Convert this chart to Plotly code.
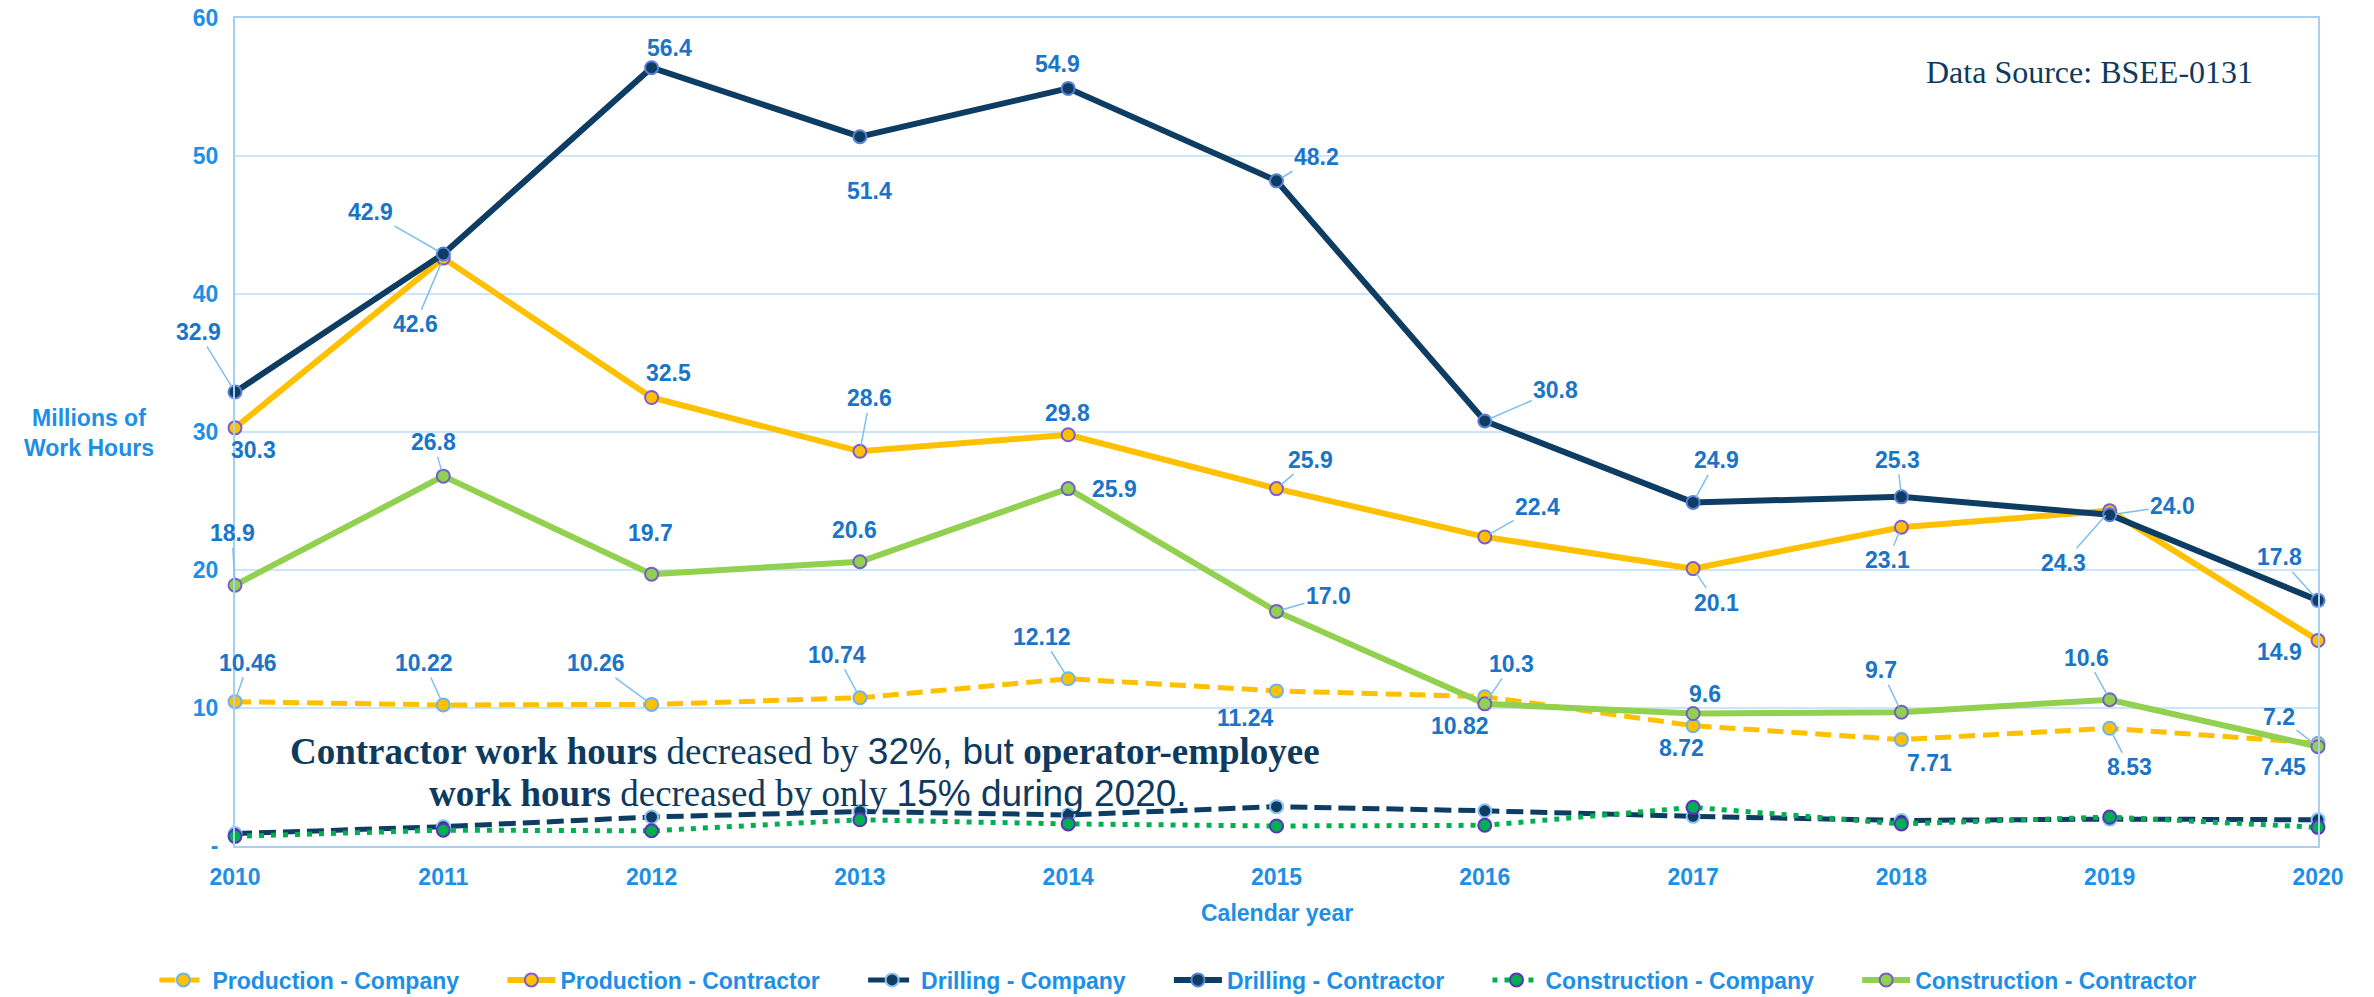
import plotly.graph_objects as go

years = [2010, 2011, 2012, 2013, 2014, 2015, 2016, 2017, 2018, 2019, 2020]

prod_company = [10.46, 10.22, 10.26, 10.74, 12.12, 11.24, 10.82, 8.72, 7.71, 8.53, 7.45]
prod_contractor = [30.3, 42.6, 32.5, 28.6, 29.8, 25.9, 22.4, 20.1, 23.1, 24.3, 14.9]
drill_company = [0.9, 1.4, 2.1, 2.5, 2.25, 2.85, 2.55, 2.15, 1.85, 1.95, 1.9]
drill_contractor = [32.9, 42.9, 56.4, 51.4, 54.9, 48.2, 30.8, 24.9, 25.3, 24.0, 17.8]
constr_company = [0.7, 1.15, 1.1, 1.9, 1.6, 1.45, 1.5, 2.8, 1.6, 2.1, 1.35]
constr_contractor = [18.9, 26.8, 19.7, 20.6, 25.9, 17.0, 10.3, 9.6, 9.7, 10.6, 7.2]

y_ticks = [0, 10, 20, 30, 40, 50, 60]
y_ticktext = ['-', '10', '20', '30', '40', '50', '60']

GOLD = '#FFC000'
NAVY = '#0E3D64'
GREEN = '#00B050'
LGREEN = '#92D050'
TICK = '#1E8FE6'
LABEL = '#1A74C8'
LEADER = '#7EBFF0'
GRID = '#CDE5F8'

fig = go.Figure()

series = [
    ('Production - Company', prod_company, GOLD, '16px,8px', 5, GOLD, '#6DB3EE'),
    ('Production - Contractor', prod_contractor, GOLD, 'solid', 6, GOLD, '#7A5CD8'),
    ('Drilling - Company', drill_company, NAVY, '17px,7px', 5, NAVY, '#8CC3F0'),
    ('Drilling - Contractor', drill_contractor, NAVY, 'solid', 6, NAVY, '#5C7FD8'),
    ('Construction - Company', constr_company, GREEN, '5px,7px', 5, GREEN, '#5B32C0'),
    ('Construction - Contractor', constr_contractor, LGREEN, 'solid', 6, LGREEN, '#7460C8'),
]

pad = '&nbsp;' * 6
for k, (name, vals, col, dash, w, fill, edge) in enumerate(series):
    shown = '<b>' + name + '</b>' + (pad if k < len(series) - 1 else '')
    fig.add_trace(go.Scatter(
        x=years, y=vals, name=shown, mode='lines+markers',
        line=dict(color=col, width=w, dash=dash),
        marker=dict(size=13, color=fill, line=dict(color=edge, width=2)),
        cliponaxis=False,
    ))

# label offsets in screen px (dx, dy down), and whether a leader line is drawn
lab_drill = [(-37, -60, 1), (-73, -42, 1), (18, -20, 0), (10, 54, 0), (-11, -24, 0), (40, -24, 1),
             (71, -31, 1), (23, -42, 1), (-4, -37, 1), (63, -9, 1), (-39, -43, 1)]
lab_prodc = [(18, 22, 0), (-28, 66, 1), (17, -25, 0), (10, -53, 1), (-1, -22, 0), (34, -29, 1),
             (53, -30, 1), (23, 34, 1), (-14, 33, 1), (-46, 52, 1), (-39, 12, 0)]
lab_constr = [(-3, -52, 1), (-10, -34, 1), (-1, -41, 0), (-5, -32, 0), (46, 0, 0), (52, -15, 1),
              (27, -40, 1), (12, -20, 0), (-20, -42, 1), (-23, -42, 1), (-39, -30, 1)]
lab_prodco = [(13, -39, 1), (-19, -42, 1), (-56, -41, 1), (-23, -43, 1), (-26, -42, 1), (-32, 27, 0),
              (-25, 29, 0), (-12, 22, 0), (28, 23, 0), (20, 39, 1), (-35, 24, 0)]

label_font = dict(family='Liberation Sans, Arial', size=23, color=LABEL)

for vals, offs, fmt in [(drill_contractor, lab_drill, '{:.1f}'),
                        (prod_contractor, lab_prodc, '{:.1f}'),
                        (constr_contractor, lab_constr, '{:.1f}'),
                        (prod_company, lab_prodco, '{:.2f}')]:
    for yr, v, (dx, dy, lead) in zip(years, vals, offs):
        txt = '<b>' + fmt.format(v) + '</b>'
        if lead:
            fig.add_annotation(x=yr, y=v, text=txt, showarrow=True, ax=dx, ay=dy,
                               arrowhead=0, arrowwidth=1.5, arrowcolor=LEADER,
                               standoff=6, font=label_font)
        else:
            fig.add_annotation(x=yr, y=v, text=txt, showarrow=False,
                               xshift=dx, yshift=-dy, font=label_font)

sans = "font-family:'Liberation Sans', Arial"
serif = dict(family='Liberation Serif, Times New Roman', size=37, color='#0E3A5E')
line1 = ("<b>Contractor work hours</b> decreased by <span style=\"" + sans + "\">32%, but</span> "
         "<b>operator-employee</b>")
line2 = ("<b>work hours</b> decreased by only <span style=\"" + sans + "\">15% during 2020.</span>")
fig.add_annotation(xref='paper', yref='paper', x=0.2736, y=0.1147, xanchor='center', yanchor='middle',
                   text=line1, showarrow=False, font=serif)
fig.add_annotation(xref='paper', yref='paper', x=0.2750, y=0.0640, xanchor='center', yanchor='middle',
                   text=line2, showarrow=False, font=serif)

fig.add_annotation(xref='paper', yref='paper', x=0.9698, y=0.9348, xanchor='right', yanchor='middle',
                   text='Data Source: BSEE-0131', showarrow=False,
                   font=dict(family='Liberation Serif, Times New Roman', size=32, color='#0E3A5E'))

fig.add_annotation(xref='paper', yref='paper', x=-0.0700, y=0.4988, xanchor='center', yanchor='middle',
                   text='<b>Millions of<br>Work Hours</b>', showarrow=False, align='center',
                   font=dict(family='Liberation Sans, Arial', size=23, color=TICK))

fig.add_annotation(xref='paper', yref='paper', x=0.5, y=-0.0809, xanchor='center', yanchor='middle',
                   text='<b>Calendar year</b>', showarrow=False,
                   font=dict(family='Liberation Sans, Arial', size=23, color=TICK))

fig.update_layout(
    width=2374, height=997,
    margin=dict(l=227, r=64, t=10, b=159),
    paper_bgcolor='white', plot_bgcolor='white',
    font=dict(family='Liberation Sans, Arial', size=23, color=TICK),
    legend=dict(orientation='h', xref='container', x=0.4928, xanchor='center',
                yref='container', y=0.0251, yanchor='middle', itemwidth=48,
                font=dict(size=23, color=TICK, family='Liberation Sans, Arial')),
    showlegend=True,
)

fig.update_xaxes(range=[2010, 2020], tickvals=years, ticktext=['<b>%d</b>' % y for y in years],
                 showgrid=False, showline=True, linecolor='#A8D1F1', linewidth=2, mirror=True,
                 tickfont=dict(size=23, color=TICK), ticks='', ticklabelstandoff=9, zeroline=False,
                 ticklabeloverflow='allow', automargin=False)
fig.update_yaxes(range=[0, 60], tickvals=y_ticks, ticktext=['<b>%s</b>' % t for t in y_ticktext],
                 showgrid=True, gridcolor=GRID, gridwidth=2, showline=True, linecolor='#A8D1F1',
                 linewidth=2, mirror=True, tickfont=dict(size=23, color=TICK), ticks='',
                 ticklabelstandoff=10, zeroline=False, ticklabeloverflow='allow', automargin=False)

fig.write_html('out.html')
